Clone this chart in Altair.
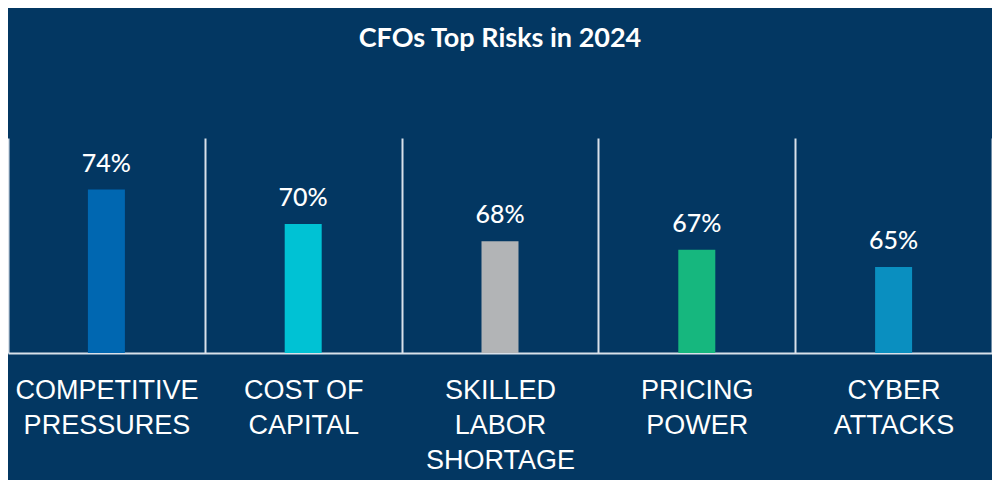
import altair as alt
import pandas as pd

categories = ["COMPETITIVE|PRESSURES", "COST OF|CAPITAL", "SKILLED|LABOR|SHORTAGE",
              "PRICING|POWER", "CYBER|ATTACKS"]
values = [74, 70, 68, 67, 65]
value_labels = ["74%", "70%", "68%", "67%", "65%"]
bar_colors = ["#0067b1", "#00c2d4", "#b2b4b6", "#16b77e", "#0a8fc0"]

df = pd.DataFrame({"category": categories, "value": values, "label": value_labels})

BG = "#033762"
LINE = "#d9e1ea"

x_enc = alt.X(
    "category:N", sort=None, title=None,
    scale=alt.Scale(paddingInner=0, paddingOuter=0),
    axis=alt.Axis(
        labelAngle=0,
        labelExpr="split(datum.label, '|')",
        labelFont="Liberation Sans",
        labelFontSize=27,
        labelColor="white",
        labelLineHeight=35,
        labelBaseline="top",
        labelAlign="center",
        labelPadding=24,
        labelLimit=0,
        labelOverlap=False,
        labelBound=False,
        ticks=False,
        tickSize=0,
        tickBand="extent",
        grid=True,
        gridColor=LINE,
        gridWidth=2,
        gridOpacity=1,
        domainColor=LINE,
        domainWidth=2,
    ),
)
y_enc = alt.Y("value:Q", scale=alt.Scale(domain=[55, 80], zero=False), axis=None)

base = alt.Chart(df).encode(x=x_enc, y=y_enc)

bars = base.mark_bar(size=37, clip=True).encode(
    color=alt.Color("category:N", sort=None,
                    scale=alt.Scale(domain=categories, range=bar_colors), legend=None)
)
texts = base.mark_text(font="Lato", fontSize=25, fontWeight=500, color="white",
                       baseline="alphabetic", dy=-18).encode(text="label:N")

chart = alt.layer(bars, texts).properties(
    width=984,
    height=215,
    autosize=alt.AutoSizeParams(type="none"),
    padding={"left": 0, "right": 0, "top": 130, "bottom": 127},
    title=alt.TitleParams("CFOs Top Risks in 2024", font="Lato", fontSize=27,
                          fontWeight="bold", color="white", anchor="middle", offset=85),
).configure(background=BG).configure_view(stroke=None)

chart.save("out.html", embed_options={"renderer": "svg", "actions": False})
